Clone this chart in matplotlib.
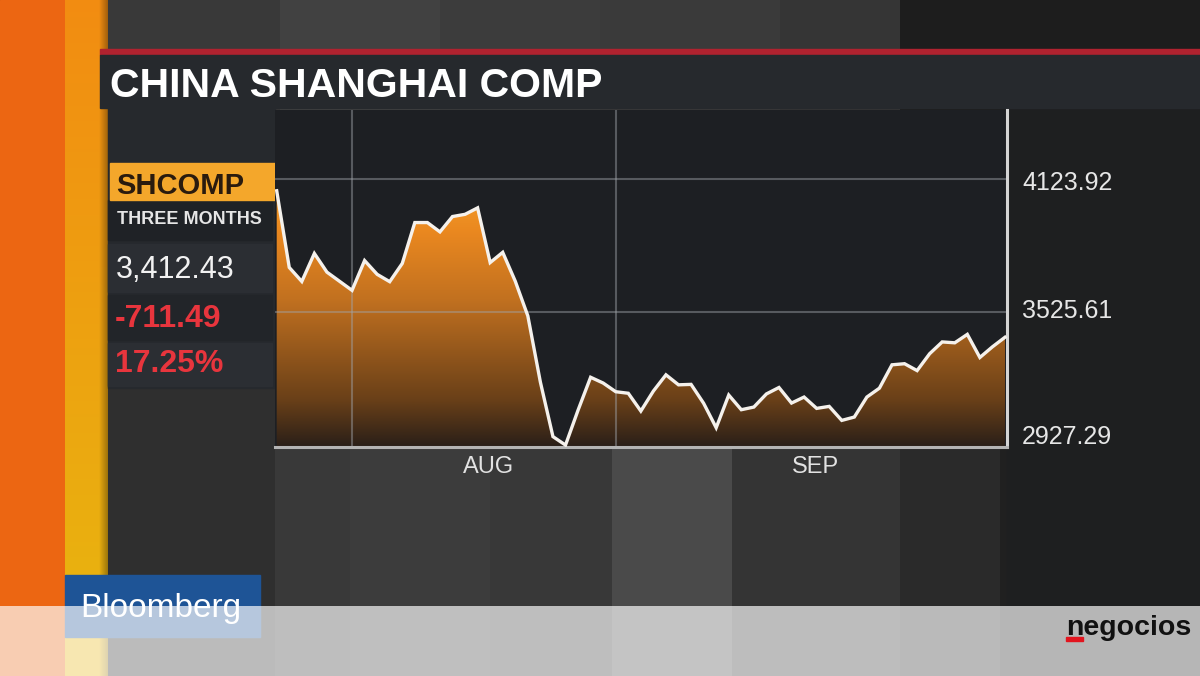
import numpy as np
import matplotlib
matplotlib.use("Agg")
import matplotlib.pyplot as plt
from matplotlib.patches import Rectangle, Polygon
from matplotlib.colors import LinearSegmentedColormap

# ---------------- data ----------------
dates = ["2015-07-24", "2015-07-27", "2015-07-28", "2015-07-29", "2015-07-30", "2015-07-31",
         "2015-08-03", "2015-08-04", "2015-08-05", "2015-08-06", "2015-08-07", "2015-08-10",
         "2015-08-11", "2015-08-12", "2015-08-13", "2015-08-14", "2015-08-17", "2015-08-18",
         "2015-08-19", "2015-08-20", "2015-08-21", "2015-08-24", "2015-08-25", "2015-08-26",
         "2015-08-27", "2015-08-28", "2015-08-31", "2015-09-01", "2015-09-02", "2015-09-07",
         "2015-09-08", "2015-09-09", "2015-09-10", "2015-09-11", "2015-09-14", "2015-09-15",
         "2015-09-16", "2015-09-17", "2015-09-18", "2015-09-21", "2015-09-22", "2015-09-23",
         "2015-09-24", "2015-09-25", "2015-09-28", "2015-09-29", "2015-09-30", "2015-10-08",
         "2015-10-09", "2015-10-12", "2015-10-13", "2015-10-14", "2015-10-15", "2015-10-16",
         "2015-10-19", "2015-10-20", "2015-10-21", "2015-10-22", "2015-10-23"]
values = [4071, 3726, 3663, 3789, 3705, 3664,
          3623, 3757, 3695, 3662, 3744, 3928,
          3928, 3886, 3955, 3965, 3994, 3748,
          3794, 3664, 3508, 3210, 2965, 2927,
          3084, 3232, 3206, 3167, 3160, 3080,
          3170, 3243, 3198, 3200, 3115, 3005,
          3152, 3086, 3098, 3157, 3186, 3116,
          3143, 3092, 3101, 3038, 3053, 3143,
          3183, 3288, 3293, 3262, 3338, 3391,
          3387, 3425, 3321, 3369, 3412]
ytick_values = [4123.92, 3525.61, 2927.29]
ytick_labels = ["4123.92", "3525.61", "2927.29"]
month_labels = ["AUG", "SEP"]
title = "CHINA SHANGHAI COMP"
ticker = "SHCOMP"
period = "THREE MONTHS"
last_value = "3,412.43"
net_change = "-711.49"
pct_change = "17.25%"

FONT = "Liberation Sans"
W, H = 1200, 676
fig = plt.figure(figsize=(12, 6.76), dpi=100)

# ---------------- background (studio look) ----------------
bg = fig.add_axes([0, 0, 1, 1])
bg.set_xlim(0, W)
bg.set_ylim(H, 0)
bg.axis("off")


def profile(xb, gs):
    c = np.zeros(W)
    for i in range(len(gs)):
        c[xb[i]:xb[i + 1]] = gs[i] / 255.0
    return c


top_col = profile([0, 108, 280, 440, 600, 780, 900, 1200],
                  [0x38, 0x39, 0x41, 0x3c, 0x3a, 0x35, 0x1d])
bot_col = profile([0, 108, 275, 350, 490, 612, 732, 900, 1000, 1200],
                  [0x30, 0x2f, 0x39, 0x3c, 0x38, 0x4a, 0x34, 0x2a, 0x20])
img = np.zeros((H, W))
img[:110, :] = top_col[None, :]
img[110:, :] = bot_col[None, :]
img = np.dstack([img, img, img])
bg.imshow(img, extent=(0, W, H, 0), aspect="auto", zorder=0, interpolation="bilinear")

# right dark panel area
bg.add_patch(Rectangle((1007, 108), 193, 500, color="#1e1f20", zorder=1))

# orange bar
bg.add_patch(Rectangle((0, 0), 65, H, color="#ec6612", zorder=2))
# yellow/orange bar with gradient
ty = np.linspace(0, 1, H)[:, None]
tx = np.linspace(0, 1, 43)[None, :]
top = np.array([0.95, 0.55, 0.07])
bot = np.array([0.91, 0.72, 0.06])
ybar = top[None, None, :] * (1 - ty[..., None]) + bot[None, None, :] * ty[..., None]
shade = np.where(tx > 0.8, 1 - (tx - 0.8) * 1.6, 1.0)
ybar = ybar * shade[..., None]
bg.imshow(ybar, extent=(65, 108, H, 0), aspect="auto", zorder=2)

# title bar
bg.add_patch(Rectangle((100, 49), 1100, 6, color="#b0222f", zorder=3))
bg.add_patch(Rectangle((100, 55), 1100, 53, color="#26292d", zorder=3))
bg.text(110, 97, title, fontsize=29.5, fontweight="bold", color="white",
        family=FONT, va="baseline", ha="left", zorder=4)

# left info panel
bg.add_patch(Rectangle((108, 108), 167, 280, color="#26292d", zorder=3))
bg.add_patch(Rectangle((108, 200), 164, 40, color="#1f2226", zorder=3))
bg.add_patch(Rectangle((108, 244), 164, 48, color="#2b2e33", zorder=3))
bg.add_patch(Rectangle((108, 295), 164, 45, color="#222529", zorder=3))
bg.add_patch(Rectangle((108, 343), 164, 43, color="#2b2e33", zorder=3))
bg.add_patch(Rectangle((110, 163), 167, 37, color="#f4a72b", zorder=4))
bg.text(116, 194, ticker, fontsize=21, fontweight="bold", color="#2a1b0e",
        family=FONT, va="baseline", zorder=5)
bg.text(117, 224, period, fontsize=13, fontweight="bold", color="#e6e6e6",
        family=FONT, va="baseline", zorder=5)
bg.text(116, 278, last_value, fontsize=22, color="#f2f2f2",
        family=FONT, va="baseline", zorder=5)
bg.text(115, 327, net_change, fontsize=23, fontweight="bold", color="#e8353d",
        family=FONT, va="baseline", zorder=5)
bg.text(115, 372, pct_change, fontsize=23, fontweight="bold", color="#e8353d",
        family=FONT, va="baseline", zorder=5)

# Bloomberg box
bg.add_patch(Rectangle((65, 575), 195, 62, color="#1e5496", zorder=6))
bg.text(80, 617, "Bloomberg", fontsize=24, color="white", family=FONT,
        va="baseline", zorder=7)
# translucent lower band
bg.add_patch(Rectangle((0, 606), W, 70, color="white", alpha=0.68, zorder=8, lw=0))
bg.text(1066, 635, "negocios", fontsize=20.5, fontweight="bold", color="#111111",
        family=FONT, va="baseline", zorder=9)
bg.add_patch(Rectangle((1066, 637), 17, 4, color="#e2141e", zorder=9))

# ---------------- chart ----------------
L, R, T, B = 275, 1007, 110, 447
ax = fig.add_axes([L / W, 1 - B / H, (R - L) / W, (B - T) / H])
ax.set_facecolor("#1d1f23")
xs = np.arange(len(values))
x0, x1 = -0.135, len(values) - 1 + 0.16
y0, y1 = 2918.3, 4434.3
ax.set_xlim(x0, x1)
ax.set_ylim(y0, y1)

cmap = LinearSegmentedColormap.from_list(
    "fillgrad",
    [(0.0, "#2a1f18"), (0.14, "#6a4018"), (0.44, "#c27120"),
     (0.64, "#ea881f"), (0.75, "#f39a28"), (1.0, "#f8a830")])
verts = [(xs[0], y0)] + list(zip(xs, values)) + [(xs[-1], y0)]
poly = Polygon(verts, closed=True, facecolor="none", edgecolor="none")
ax.add_patch(poly)
grad = np.linspace(0, 1, 256).reshape(-1, 1)
im = ax.imshow(grad, cmap=cmap, aspect="auto", extent=[x0, x1, y0, y1],
               origin="lower", zorder=1, interpolation="bilinear")
im.set_clip_path(poly)

# grid
for v in ytick_values[:2]:
    ax.axhline(v, color="#a0a4aa", alpha=0.45, lw=1.5, zorder=2)
month_starts = [i for i in range(1, len(dates)) if dates[i][5:7] != dates[i - 1][5:7]]
month_starts = month_starts[:len(month_labels)]
for m in month_starts:
    ax.axvline(m, color="#a0a4aa", alpha=0.45, lw=1.5, zorder=2)

ax.plot(xs, values, color="#f5f1ec", lw=2.4, zorder=3, solid_joinstyle="miter")

for s in ["top", "left"]:
    ax.spines[s].set_visible(False)
ax.spines["right"].set_color("#d4d4d4")
ax.spines["right"].set_linewidth(2.2)
ax.spines["bottom"].set_color("#b4b4b4")
ax.spines["bottom"].set_linewidth(2.2)
ax.set_xticks([])
ax.set_yticks([])

# y labels on the right
offs = [-3, 0.5, 6]
for v, lab, o in zip(ytick_values, ytick_labels, offs):
    ax.annotate(lab, xy=(1.0205, v), xycoords=("axes fraction", "data"),
                xytext=(0, o), textcoords="offset points",
                fontsize=18, color="#e6e6e6", family=FONT,
                ha="left", va="center", annotation_clip=False)

# month labels
bounds = month_starts + [len(values) - 1]
for i, lab in enumerate(month_labels):
    mid = (bounds[i] + bounds[i + 1]) / 2 + 0.4
    ax.annotate(lab, xy=(mid, 0), xycoords=("data", "axes fraction"),
                xytext=(0, -14.5), textcoords="offset points",
                fontsize=17, color="#e2e2e2", family=FONT,
                ha="center", va="center", annotation_clip=False)

fig.savefig("out.png", dpi=100)
